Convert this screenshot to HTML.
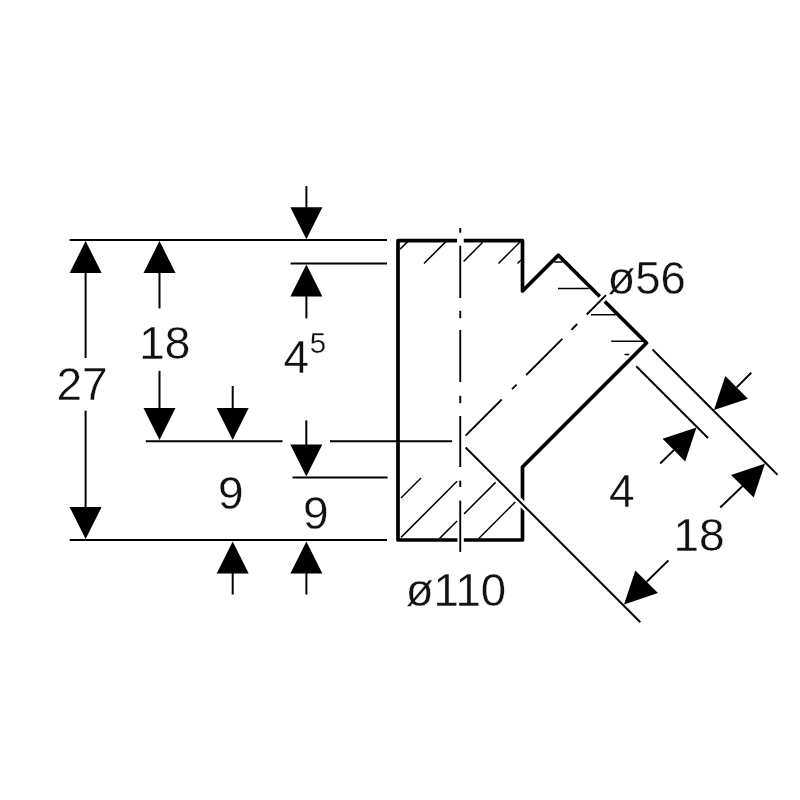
<!DOCTYPE html>
<html><head><meta charset="utf-8"><style>
html,body{margin:0;padding:0;background:#fff;width:800px;height:800px;overflow:hidden}
svg{display:block;will-change:transform}
text{font-family:"Liberation Sans",sans-serif}
</style></head><body>
<svg width="800" height="800" viewBox="0 0 800 800">
<rect width="800" height="800" fill="#fff"/>
<line x1="69.60" y1="240.00" x2="387.00" y2="240.00" stroke="#000" stroke-width="2.0" stroke-linecap="butt"/>
<line x1="290.60" y1="263.50" x2="387.00" y2="263.50" stroke="#000" stroke-width="2.0" stroke-linecap="butt"/>
<line x1="145.80" y1="441.20" x2="282.50" y2="441.20" stroke="#000" stroke-width="2.0" stroke-linecap="butt"/>
<line x1="330.00" y1="441.20" x2="452.00" y2="441.20" stroke="#000" stroke-width="2.0" stroke-linecap="butt"/>
<line x1="292.50" y1="477.60" x2="387.60" y2="477.60" stroke="#000" stroke-width="2.0" stroke-linecap="butt"/>
<line x1="69.70" y1="540.00" x2="387.00" y2="540.00" stroke="#000" stroke-width="2.0" stroke-linecap="butt"/>
<polygon points="85.60,241.00 101.60,273.00 69.60,273.00" fill="#000"/>
<line x1="85.60" y1="273.00" x2="85.60" y2="358.00" stroke="#000" stroke-width="2.0" stroke-linecap="butt"/>
<line x1="85.60" y1="410.60" x2="85.60" y2="508.00" stroke="#000" stroke-width="2.0" stroke-linecap="butt"/>
<polygon points="85.60,539.00 69.60,507.00 101.60,507.00" fill="#000"/>
<polygon points="159.50,241.00 175.50,273.00 143.50,273.00" fill="#000"/>
<line x1="159.50" y1="273.00" x2="159.50" y2="308.40" stroke="#000" stroke-width="2.0" stroke-linecap="butt"/>
<line x1="159.50" y1="370.90" x2="159.50" y2="409.00" stroke="#000" stroke-width="2.0" stroke-linecap="butt"/>
<polygon points="159.50,440.00 143.50,408.00 175.50,408.00" fill="#000"/>
<line x1="306.40" y1="186.10" x2="306.40" y2="208.00" stroke="#000" stroke-width="2.0" stroke-linecap="butt"/>
<polygon points="306.40,239.20 290.40,207.20 322.40,207.20" fill="#000"/>
<polygon points="306.40,264.50 322.40,296.50 290.40,296.50" fill="#000"/>
<line x1="306.40" y1="296.00" x2="306.40" y2="318.40" stroke="#000" stroke-width="2.0" stroke-linecap="butt"/>
<line x1="306.30" y1="420.40" x2="306.30" y2="445.50" stroke="#000" stroke-width="2.0" stroke-linecap="butt"/>
<polygon points="306.30,476.50 290.30,444.50 322.30,444.50" fill="#000"/>
<polygon points="306.40,541.50 322.40,573.50 290.40,573.50" fill="#000"/>
<line x1="306.40" y1="573.00" x2="306.40" y2="594.50" stroke="#000" stroke-width="2.0" stroke-linecap="butt"/>
<line x1="232.70" y1="386.00" x2="232.70" y2="409.00" stroke="#000" stroke-width="2.0" stroke-linecap="butt"/>
<polygon points="232.70,440.00 216.70,408.00 248.70,408.00" fill="#000"/>
<polygon points="232.70,541.50 248.70,573.50 216.70,573.50" fill="#000"/>
<line x1="232.70" y1="573.00" x2="232.70" y2="594.50" stroke="#000" stroke-width="2.0" stroke-linecap="butt"/>
<line x1="652.50" y1="349.50" x2="777.60" y2="474.90" stroke="#000" stroke-width="2.0" stroke-linecap="butt"/>
<line x1="636.25" y1="366.25" x2="708.00" y2="438.00" stroke="#000" stroke-width="2.0" stroke-linecap="butt"/>
<polygon points="714.00,410.00 725.31,376.06 747.94,398.69" fill="#000"/>
<line x1="736.63" y1="387.37" x2="751.25" y2="372.75" stroke="#000" stroke-width="2.0" stroke-linecap="butt"/>
<polygon points="696.50,427.50 685.19,461.44 662.56,438.81" fill="#000"/>
<line x1="673.87" y1="450.13" x2="660.20" y2="463.50" stroke="#000" stroke-width="2.0" stroke-linecap="butt"/>
<polygon points="765.00,463.60 753.69,497.54 731.06,474.91" fill="#000"/>
<line x1="742.37" y1="486.23" x2="720.25" y2="507.50" stroke="#000" stroke-width="2.0" stroke-linecap="butt"/>
<polygon points="624.00,604.40 635.31,570.46 657.94,593.09" fill="#000"/>
<line x1="646.63" y1="581.77" x2="668.50" y2="560.40" stroke="#000" stroke-width="2.0" stroke-linecap="butt"/>
<path d="M398,240.7 H522.5 V291 L558.3,255.2 L646.5,343 L522.5,467 V540 H398 Z" fill="none" stroke="#000" stroke-width="3.7" stroke-linejoin="round"/>
<line x1="457" y1="240.7" x2="463.75" y2="240.7" stroke="#fff" stroke-width="6"/>
<line x1="457.4" y1="540" x2="463.85" y2="540" stroke="#fff" stroke-width="6"/>
<line x1="598.5" y1="302.7" x2="606" y2="295.2" stroke="#fff" stroke-width="7"/>
<line x1="518" y1="499.8" x2="527" y2="508.8" stroke="#fff" stroke-width="7"/>
<line x1="465.60" y1="447.50" x2="640.30" y2="622.30" stroke="#000" stroke-width="2.0" stroke-linecap="butt"/>
<line x1="400.00" y1="249.30" x2="407.90" y2="241.40" stroke="#000" stroke-width="1.5" stroke-linecap="butt"/>
<line x1="424.00" y1="263.50" x2="445.90" y2="241.60" stroke="#000" stroke-width="1.5" stroke-linecap="butt"/>
<line x1="463.60" y1="261.50" x2="482.50" y2="242.50" stroke="#000" stroke-width="1.5" stroke-linecap="butt"/>
<line x1="498.50" y1="263.50" x2="520.50" y2="241.50" stroke="#000" stroke-width="1.5" stroke-linecap="butt"/>
<line x1="517.50" y1="263.50" x2="521.00" y2="260.00" stroke="#000" stroke-width="1.5" stroke-linecap="butt"/>
<line x1="401.00" y1="498.00" x2="421.00" y2="478.00" stroke="#000" stroke-width="1.5" stroke-linecap="butt"/>
<line x1="401.00" y1="537.40" x2="457.10" y2="481.30" stroke="#000" stroke-width="1.5" stroke-linecap="butt"/>
<line x1="439.60" y1="538.40" x2="457.10" y2="521.00" stroke="#000" stroke-width="1.5" stroke-linecap="butt"/>
<line x1="464.10" y1="513.90" x2="495.60" y2="482.40" stroke="#000" stroke-width="1.5" stroke-linecap="butt"/>
<line x1="478.80" y1="538.50" x2="515.30" y2="502.00" stroke="#000" stroke-width="1.5" stroke-linecap="butt"/>
<line x1="554.25" y1="262.00" x2="562.50" y2="262.00" stroke="#000" stroke-width="1.5" stroke-linecap="butt"/>
<line x1="558.00" y1="288.50" x2="588.75" y2="288.50" stroke="#000" stroke-width="1.5" stroke-linecap="butt"/>
<line x1="591.00" y1="314.75" x2="615.75" y2="314.75" stroke="#000" stroke-width="1.5" stroke-linecap="butt"/>
<line x1="611.25" y1="341.30" x2="643.50" y2="341.30" stroke="#000" stroke-width="1.5" stroke-linecap="butt"/>
<line x1="624.50" y1="354.50" x2="629.20" y2="354.50" stroke="#000" stroke-width="1.5" stroke-linecap="butt"/>
<line x1="460.25" y1="228.00" x2="460.25" y2="232.75" stroke="#000" stroke-width="1.9" stroke-linecap="butt"/>
<line x1="460.25" y1="245.75" x2="460.25" y2="298.00" stroke="#000" stroke-width="1.9" stroke-linecap="butt"/>
<line x1="460.25" y1="310.80" x2="460.25" y2="318.20" stroke="#000" stroke-width="1.9" stroke-linecap="butt"/>
<line x1="460.25" y1="330.00" x2="460.25" y2="382.00" stroke="#000" stroke-width="1.9" stroke-linecap="butt"/>
<line x1="460.25" y1="395.80" x2="460.25" y2="403.20" stroke="#000" stroke-width="1.9" stroke-linecap="butt"/>
<line x1="460.25" y1="416.00" x2="460.25" y2="467.00" stroke="#000" stroke-width="1.9" stroke-linecap="butt"/>
<line x1="460.25" y1="480.60" x2="460.25" y2="487.00" stroke="#000" stroke-width="1.9" stroke-linecap="butt"/>
<line x1="460.25" y1="500.60" x2="460.25" y2="551.90" stroke="#000" stroke-width="1.9" stroke-linecap="butt"/>
<line x1="465.60" y1="435.60" x2="501.70" y2="399.50" stroke="#000" stroke-width="1.9" stroke-linecap="butt"/>
<line x1="512.00" y1="389.20" x2="516.60" y2="384.60" stroke="#000" stroke-width="1.9" stroke-linecap="butt"/>
<line x1="526.20" y1="375.00" x2="562.30" y2="338.90" stroke="#000" stroke-width="1.9" stroke-linecap="butt"/>
<line x1="571.40" y1="329.80" x2="577.20" y2="324.00" stroke="#000" stroke-width="1.9" stroke-linecap="butt"/>
<line x1="586.70" y1="314.50" x2="606.00" y2="295.20" stroke="#000" stroke-width="1.9" stroke-linecap="butt"/>
<text x="56.5" y="400" font-size="46" fill="#111" stroke="#fff" stroke-width="0.35">27</text>
<text x="139.2" y="359" font-size="46" fill="#111" stroke="#fff" stroke-width="0.35">18</text>
<text x="283.5" y="373" font-size="46" fill="#111" stroke="#fff" stroke-width="0.35">4</text>
<text x="309.75" y="353" font-size="29.5" fill="#111" stroke="#fff" stroke-width="0.25">5</text>
<text x="218" y="508.9" font-size="46" fill="#111" stroke="#fff" stroke-width="0.35">9</text>
<text x="303" y="528.6" font-size="46" fill="#111" stroke="#fff" stroke-width="0.35">9</text>
<text x="405.7" y="606" font-size="45.5" fill="#111" stroke="#fff" stroke-width="0.35">ø110</text>
<text x="607.4" y="294.2" font-size="45.5" fill="#111" stroke="#fff" stroke-width="0.35">ø56</text>
<text x="609" y="507" font-size="46" fill="#111" stroke="#fff" stroke-width="0.35">4</text>
<text x="673.4" y="551.4" font-size="46" fill="#111" stroke="#fff" stroke-width="0.35">18</text>
</svg>
</body></html>
